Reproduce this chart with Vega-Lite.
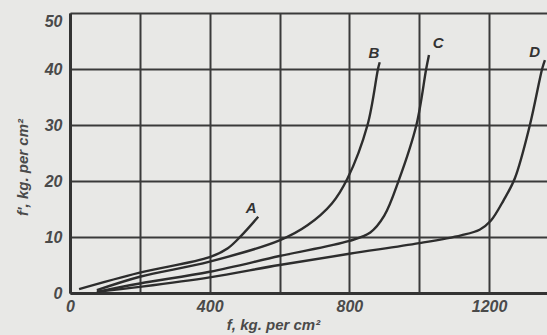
{
  "$schema": "https://vega.github.io/schema/vega-lite/v6.json",
  "width": 477,
  "height": 280,
  "autosize": {"type": "none"},
  "padding": {"left": 70, "top": 13, "right": 0, "bottom": 42},
  "background": "#e8e8e6",
  "config": {
    "view": {"stroke": null},
    "axis": {
      "grid": true,
      "gridColor": "#3a3a3a",
      "gridWidth": 2,
      "gridOpacity": 1,
      "domainColor": "#333333",
      "domainWidth": 3,
      "ticks": false,
      "labelFont": "Liberation Sans",
      "labelFontSize": 16,
      "labelFontStyle": "italic",
      "labelFontWeight": "bold",
      "labelColor": "#4a4a4a",
      "titleFont": "Liberation Sans",
      "titleFontSize": 15,
      "titleFontStyle": "italic",
      "titleFontWeight": "bold",
      "titleColor": "#4a4a4a"
    }
  },
  "datasets": {
    "curves": [
      {"curve": "A", "f": 26, "fp": 0.7},
      {"curve": "A", "f": 197, "fp": 3.6},
      {"curve": "A", "f": 400, "fp": 6.4},
      {"curve": "A", "f": 452, "fp": 8.0},
      {"curve": "A", "f": 490, "fp": 10.2},
      {"curve": "A", "f": 539, "fp": 13.6},
      {"curve": "B", "f": 77, "fp": 0.5},
      {"curve": "B", "f": 200, "fp": 2.9},
      {"curve": "B", "f": 400, "fp": 5.6},
      {"curve": "B", "f": 600, "fp": 9.4},
      {"curve": "B", "f": 680, "fp": 12.1},
      {"curve": "B", "f": 750, "fp": 16.0},
      {"curve": "B", "f": 795, "fp": 20.5},
      {"curve": "B", "f": 852, "fp": 30},
      {"curve": "B", "f": 882, "fp": 40},
      {"curve": "B", "f": 887, "fp": 41.2},
      {"curve": "C", "f": 77, "fp": 0.2},
      {"curve": "C", "f": 200, "fp": 1.7},
      {"curve": "C", "f": 400, "fp": 3.8},
      {"curve": "C", "f": 600, "fp": 6.6},
      {"curve": "C", "f": 800, "fp": 9.3},
      {"curve": "C", "f": 860, "fp": 10.8},
      {"curve": "C", "f": 900, "fp": 13.8},
      {"curve": "C", "f": 942, "fp": 20.2},
      {"curve": "C", "f": 992, "fp": 30},
      {"curve": "C", "f": 1020, "fp": 40},
      {"curve": "C", "f": 1028, "fp": 42.5},
      {"curve": "D", "f": 77, "fp": 0.2},
      {"curve": "D", "f": 200, "fp": 1.1},
      {"curve": "D", "f": 400, "fp": 2.8},
      {"curve": "D", "f": 600, "fp": 5.0},
      {"curve": "D", "f": 800, "fp": 7.0},
      {"curve": "D", "f": 1000, "fp": 8.9},
      {"curve": "D", "f": 1120, "fp": 10.3},
      {"curve": "D", "f": 1173, "fp": 11.3},
      {"curve": "D", "f": 1205, "fp": 12.9},
      {"curve": "D", "f": 1242, "fp": 16.6},
      {"curve": "D", "f": 1274, "fp": 20.5},
      {"curve": "D", "f": 1317, "fp": 30},
      {"curve": "D", "f": 1352, "fp": 40},
      {"curve": "D", "f": 1360, "fp": 41.6}
    ],
    "letters": [
      {"curve": "A", "f": 519, "fp": 15.2},
      {"curve": "B", "f": 870, "fp": 42.9},
      {"curve": "C", "f": 1054, "fp": 44.6},
      {"curve": "D", "f": 1331, "fp": 43.0}
    ]
  },
  "layer": [
    {
      "data": {"name": "curves"},
      "mark": {"type": "line", "interpolate": "catmull-rom", "color": "#2d2d2d", "strokeWidth": 2.4},
      "encoding": {
        "x": {
          "field": "f",
          "type": "quantitative",
          "scale": {"domain": [0, 1366], "nice": false, "zero": false},
          "axis": {
            "values": [0, 200, 400, 600, 800, 1000, 1200],
            "format": "d",
            "labelExpr": "datum.value % 400 === 0 ? datum.label : ''",
            "labelFlush": false,
            "labelPadding": 5,
            "labelDx": -8,
            "title": "f, kg. per cm²",
            "titleX": 203,
            "titleY": 31,
            "titleAlign": "center",
            "titleBaseline": "middle"
          }
        },
        "y": {
          "field": "fp",
          "type": "quantitative",
          "scale": {"domain": [0, 50], "nice": false},
          "axis": {
            "values": [0, 10, 20, 30, 40, 50],
            "labelPadding": 8,
            "labelFlush": false,
            "labelBaseline": {"condition": {"test": "datum.value === 50", "value": "top"}, "value": "middle"},
            "title": "f', kg. per cm²",
            "titleX": -48,
            "titleY": 154,
            "titleAlign": "center",
            "titleBaseline": "middle"
          }
        },
        "detail": {"field": "curve"}
      }
    },
    {
      "data": {"name": "letters"},
      "mark": {"type": "text", "font": "Liberation Sans", "fontStyle": "italic", "fontWeight": "bold", "fontSize": 15, "color": "#333333"},
      "encoding": {
        "x": {"field": "f", "type": "quantitative"},
        "y": {"field": "fp", "type": "quantitative"},
        "text": {"field": "curve"}
      }
    }
  ]
}
